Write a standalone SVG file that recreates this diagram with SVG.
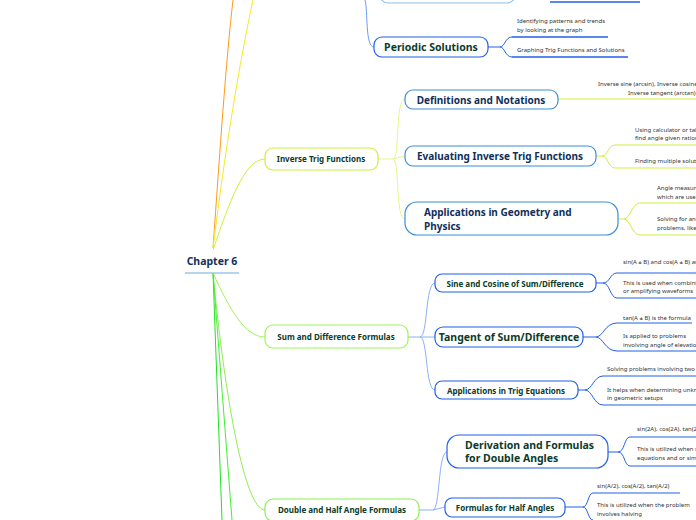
<svg xmlns="http://www.w3.org/2000/svg" width="696" height="520" viewBox="0 0 696 520">
<style>
text{font-family:"Noto Sans","Open Sans",sans-serif}
.t{font-weight:bold;fill:#0b3b2a}
.n{font-weight:bold;fill:#10305a}
.l{font-size:6px;fill:#333}
.box{fill:#fff;stroke-width:1.2}
.c{fill:none;stroke-width:1}
.u{stroke-width:1.5}
</style>
<rect width="696" height="520" fill="#fff"/>
<g id="connectors">
<path class="c" d="M213,248 C220,150 226,60 233,0" stroke="#ff9a1a" stroke-width="2"/>
<path class="c" d="M213,248 C225,150 240,60 253,0" stroke="#f7e826"/>
<path class="c" d="M213,250 C230,200 245,159 265,159" stroke="#cdf03a"/>
<path class="c" d="M213,273 C230,310 245,337 265,337" stroke="#9cf55a"/>
<path class="c" d="M213,273 C225,400 245,510 265,510" stroke="#8ef050"/>
<path class="c" d="M213,273 L222,520" stroke="#22e022" stroke-width="2"/>
<path class="c" d="M213,273 L232,520" stroke="#44ee33" stroke-width="1.5"/>
<path class="c" d="M374,47 C365,47 368,10 365,0" stroke="#6a9cf0"/>
<path class="c" d="M488,47 L500,47 C505,47 505,37 512,37 M500,47 C505,47 505,57 512,57" stroke="#2060e8"/>
<line class="u" x1="512" y1="37" x2="608" y2="37" stroke="#2060e8"/>
<line class="u" x1="512" y1="57" x2="628" y2="57" stroke="#2060e8"/>
<line class="u" x1="550" y1="2" x2="640" y2="2" stroke="#2060e8"/>
<path class="c" d="M378,159 L393,159 C400,159 395,99 405,99 M393,159 L405,156 M393,159 C400,159 395,219 405,219" stroke="#e8f58a"/>
<path class="c" d="M558,99 L696,99" stroke="#cdf03a"/>
<path class="c" d="M596,156 L602,156 C608,156 608,145 615,145 L696,145 M602,156 C608,156 608,168 615,168 L696,168" stroke="#cdf03a"/>
<path class="c" d="M618,219 L624,219 C630,219 632,203 640,203 L696,203 M624,219 C630,219 632,235 640,235 L696,235" stroke="#cdf03a"/>
<path class="c" d="M408,337 L420,337 C428,337 425,283 435,283 M420,337 L435,337 M420,337 C428,337 425,390 435,390" stroke="#8ab0f8"/>
<path class="c" d="M596,283 L603,283 C610,283 610,273 617,273 L696,273 M603,283 C610,283 610,298 617,298 L696,298" stroke="#2060e8"/>
<path class="c" d="M583,337 L596,337 C603,337 605,323 617,323 L692,323 M596,337 C603,337 605,351 617,351 L696,351" stroke="#2060e8"/>
<path class="c" d="M578,390 L585,390 C592,390 594,376 603,376 L696,376 M585,390 C592,390 594,405 603,405 L696,405" stroke="#2060e8"/>
<path class="c" d="M419,510 L433,510 C440,510 438,452 447,452 M433,510 L445,507" stroke="#8ab0f8"/>
<path class="c" d="M608,452 L618,452 C625,452 624,437 630,437 L696,437 M618,452 C625,452 624,466 630,466 L696,466" stroke="#2060e8"/>
<path class="c" d="M565,507 L583,507 C588,507 588,493 593,493 L680,493 M583,507 C588,507 588,520 593,520" stroke="#2060e8"/>
</g>
<g id="top-node"><rect class="box" x="380" y="-20" width="135" height="23" rx="8" stroke="#8ec0e8"/></g>
<g id="periodic"><rect class="box" x="374" y="37" width="114" height="20" rx="8" stroke="#2060e8"/><text class="t" x="431" y="51" font-size="10.5" text-anchor="middle">Periodic Solutions</text></g>
<g id="leaf-periodic"><text class="l" x="517" y="23">Identifying patterns and trends</text><text class="l" x="517" y="32">by looking at the graph</text><text class="l" x="517" y="52">Graphing Trig Functions and Solutions</text></g>
<g id="chapter"><text x="212" y="265" font-size="10.5" font-weight="bold" fill="#10305a" text-anchor="middle">Chapter 6</text><line x1="185" y1="273" x2="239" y2="273" stroke="#9cc8e8" stroke-width="1.5"/></g>
<g id="inverse"><rect class="box" x="265" y="148" width="113" height="22" rx="8" stroke="#cdf03a"/><text class="t" x="321" y="162" font-size="8" text-anchor="middle">Inverse Trig Functions</text></g>
<g id="defs"><rect class="box" x="405" y="90" width="153" height="19" rx="8" stroke="#3a90d8"/><text class="n" x="481" y="104" font-size="10" text-anchor="middle">Definitions and Notations</text></g>
<g id="leaf-defs"><text class="l" x="598" y="86">Inverse sine (arcsin), Inverse cosine</text><text class="l" x="628" y="95">Inverse tangent (arctan).</text></g>
<g id="eval"><rect class="box" x="405" y="146" width="191" height="20" rx="8" stroke="#3a90d8"/><text class="n" x="500" y="160" font-size="10" text-anchor="middle">Evaluating Inverse Trig Functions</text></g>
<g id="leaf-eval"><text class="l" x="635" y="132">Using calculator or tables to</text><text class="l" x="635" y="140">find angle given ratios</text><text class="l" x="635" y="163">Finding multiple solutions</text></g>
<g id="apps-geo"><rect class="box" x="405" y="202" width="213" height="33" rx="12" stroke="#3a90d8"/><text class="n" font-size="10"><tspan x="424" y="216">Applications in Geometry and</tspan><tspan x="424" y="230">Physics</tspan></text></g>
<g id="leaf-apps"><text class="l" x="657" y="190">Angle measures</text><text class="l" x="657" y="199">which are used</text><text class="l" x="657" y="221">Solving for angles</text><text class="l" x="657" y="230">problems, like</text></g>
<g id="sumdiff"><rect class="box" x="265" y="325" width="143" height="23" rx="8" stroke="#9cf55a"/><text class="t" x="336" y="340" font-size="8" text-anchor="middle">Sum and Difference Formulas</text></g>
<g id="sincos"><rect class="box" x="435" y="274" width="161" height="18" rx="7" stroke="#2060e8"/><text class="t" x="515" y="287" font-size="8" text-anchor="middle">Sine and Cosine of Sum/Difference</text></g>
<g id="leaf-sincos"><text class="l" x="623" y="264">sin(A ± B) and cos(A ± B) are</text><text class="l" x="623" y="285">This is used when combining</text><text class="l" x="623" y="293">or amplifying waveforms</text></g>
<g id="tangent"><rect class="box" x="435" y="327" width="148" height="20" rx="8" stroke="#2060e8"/><text class="t" x="509" y="341" font-size="10.5" text-anchor="middle">Tangent of Sum/Difference</text></g>
<g id="leaf-tan"><text class="l" x="623" y="320">tan(A ± B) is the formula</text><text class="l" x="623" y="338">Is applied to problems</text><text class="l" x="623" y="347">involving angle of elevation</text></g>
<g id="apps-trig"><rect class="box" x="435" y="381" width="143" height="18" rx="7" stroke="#2060e8"/><text class="t" x="506" y="394" font-size="8" text-anchor="middle">Applications in Trig Equations</text></g>
<g id="leaf-appstrig"><text class="l" x="607" y="371">Solving problems involving two angles</text><text class="l" x="607" y="392">It helps when determining unknowns</text><text class="l" x="607" y="400">in geometric setups</text></g>
<g id="doublehalf"><rect class="box" x="265" y="499" width="154" height="22" rx="8" stroke="#8ef050"/><text class="t" x="342" y="513" font-size="8" text-anchor="middle">Double and Half Angle Formulas</text></g>
<g id="deriv"><rect class="box" x="447" y="435" width="161" height="33" rx="12" stroke="#2060e8"/><text class="t" font-size="10.5"><tspan x="465" y="449">Derivation and Formulas</tspan><tspan x="465" y="462">for Double Angles</tspan></text></g>
<g id="leaf-deriv"><text class="l" x="637" y="431">sin(2A), cos(2A), tan(2A)</text><text class="l" x="637" y="451">This is utilized when solving</text><text class="l" x="637" y="460">equations and or simplifying</text></g>
<g id="half"><rect class="box" x="445" y="498" width="120" height="19" rx="7" stroke="#2060e8"/><text class="t" x="505" y="511" font-size="8" text-anchor="middle">Formulas for Half Angles</text></g>
<g id="leaf-half"><text class="l" x="597" y="488">sin(A/2), cos(A/2), tan(A/2)</text><text class="l" x="597" y="507">This is utilized when the problem</text><text class="l" x="597" y="516">involves halving</text></g>
</svg>
